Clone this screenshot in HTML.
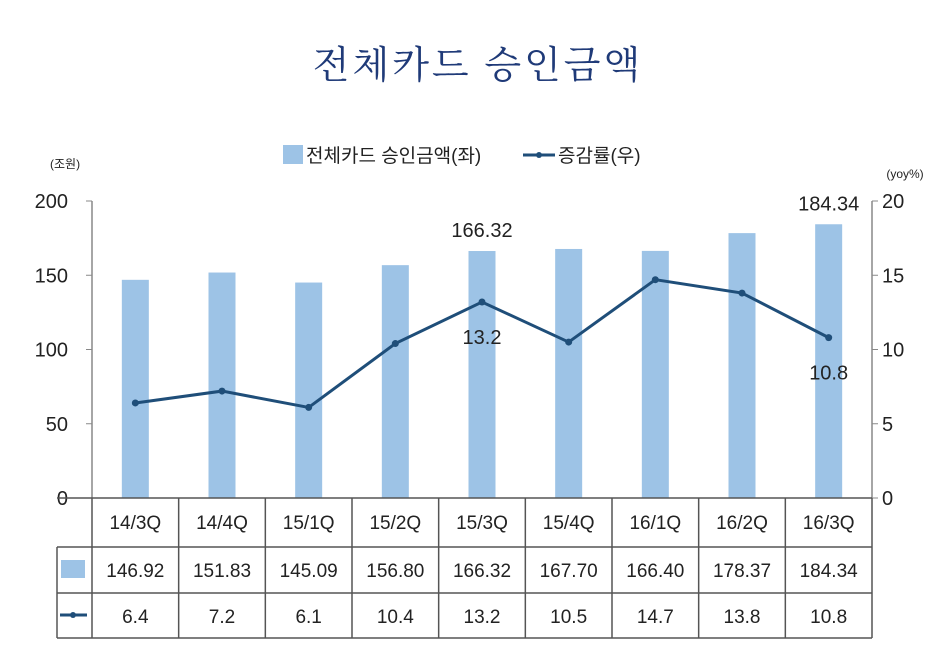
<!DOCTYPE html>
<html><head><meta charset="utf-8">
<style>
body{margin:0;background:#fff;}
svg text{font-family:"Liberation Sans","Noto Sans CJK KR",sans-serif;fill:#222;}
</style></head>
<body>
<svg width="936" height="660" viewBox="0 0 936 660" xmlns="http://www.w3.org/2000/svg">
<text x="478" y="78" text-anchor="middle" font-size="38" style="font-family:'Noto Serif CJK SC','Noto Sans CJK KR',serif;fill:#1f3a78" letter-spacing="3">전체카드 승인금액</text>
<g>
<rect x="283" y="145" width="20" height="19" fill="#9dc3e6"/>
<text x="306" y="162" font-size="19">전체카드 승인금액(좌)</text>
<line x1="523" y1="155" x2="555" y2="155" stroke="#1f4e79" stroke-width="3"/>
<circle cx="539" cy="155" r="3" fill="#1f4e79"/>
<text x="558" y="162" font-size="19">증감률(우)</text>
</g>
<text x="50" y="168" font-size="12" fill="#444">(조원)</text>
<text x="905" y="178" font-size="12" text-anchor="middle">(yoy%)</text>
<g id="plot"></g>
</svg>
<script>
const categories=["14/3Q","14/4Q","15/1Q","15/2Q","15/3Q","15/4Q","16/1Q","16/2Q","16/3Q"];
const amounts=[146.92,151.83,145.09,156.80,166.32,167.70,166.40,178.37,184.34];
const growth=[6.4,7.2,6.1,10.4,13.2,10.5,14.7,13.8,10.8];
const amountLabels=["146.92","151.83","145.09","156.80","166.32","167.70","166.40","178.37","184.34"];
const growthLabels=["6.4","7.2","6.1","10.4","13.2","10.5","14.7","13.8","10.8"];
const leftTicks=[0,50,100,150,200];
const rightTicks=[0,5,10,15,20];
const NS="http://www.w3.org/2000/svg";
const g=document.getElementById('plot');
const X0=92,X1=872,Y0=498,Y1=201;
const colW=(X1-X0)/categories.length;
const xc=i=>X0+colW*(i+0.5);
const yL=v=>Y0-(v/200)*(Y0-Y1);
const yR=v=>Y0-(v/20)*(Y0-Y1);
function mk(tag,attrs,txt){const e=document.createElementNS(NS,tag);for(const k in attrs)e.setAttribute(k,attrs[k]);if(txt!=null)e.textContent=txt;g.appendChild(e);return e;}
// axes
let e=mk('line',{x1:X0,y1:Y1,x2:X0,y2:Y0,stroke:'#888','stroke-width':1.5});


e=mk('line',{x1:X1,y1:Y1,x2:X1,y2:Y0,stroke:'#888','stroke-width':1.5});


leftTicks.forEach(t=>{
 mk('line',{x1:X0-6,y1:yL(t),x2:X0,y2:yL(t),stroke:'#888'});
 e=mk('text',{x:68,y:yL(t)+7,'font-size':20,'text-anchor':'end'},String(t));
 
 
});
rightTicks.forEach(t=>{
 mk('line',{x1:X1,y1:yR(t),x2:X1+6,y2:yR(t),stroke:'#888'});
 e=mk('text',{x:882,y:yR(t)+7,'font-size':20},String(t));
 
 
});
// bars
amounts.forEach((v,i)=>{
 e=mk('rect',{x:xc(i)-13.5,y:yL(v),width:27,height:Y0-yL(v),fill:'#9dc3e6'});
 
 
});
// line
const pts=growth.map((v,i)=>xc(i)+','+yR(v)).join(' ');
e=mk('polyline',{points:pts,fill:'none',stroke:'#1f4e79','stroke-width':3});


growth.forEach((v,i)=>{
 e=mk('circle',{cx:xc(i),cy:yR(v),r:3.5,fill:'#1f4e79'});
 
 
});
// data labels
[[4,'bar'],[8,'bar']].forEach(([i])=>{
 e=mk('text',{x:xc(i),y:yL(amounts[i])-14,'font-size':20,'text-anchor':'middle'},amountLabels[i]);
 
 
});
[4,8].forEach(i=>{
 e=mk('text',{x:xc(i),y:yR(growth[i])+42,'font-size':20,'text-anchor':'middle'},growthLabels[i]);
 
 
});
// table
const R0=498,R1=547,R2=593,R3=638,TL=57;
const ls={stroke:'#555','stroke-width':1.5};
mk('line',Object.assign({x1:X0-35,y1:R0,x2:X1,y2:R0},ls));
mk('line',Object.assign({x1:TL,y1:R1,x2:X1,y2:R1},ls));
mk('line',Object.assign({x1:TL,y1:R2,x2:X1,y2:R2},ls));
mk('line',Object.assign({x1:TL,y1:R3,x2:X1,y2:R3},ls));
mk('line',Object.assign({x1:TL,y1:R1,x2:TL,y2:R3},ls));
for(let i=0;i<=categories.length;i++){
 const x=X0+colW*i;
 mk('line',Object.assign({x1:x,y1:R0,x2:x,y2:R3},ls));
}
categories.forEach((c,i)=>{
 e=mk('text',{x:xc(i),y:R0+31,'font-size':19,'text-anchor':'middle'},c);
 
 
 e=mk('text',{x:xc(i),y:R1+30,'font-size':19,'text-anchor':'middle'},amountLabels[i]);
 
 
 e=mk('text',{x:xc(i),y:R2+30,'font-size':19,'text-anchor':'middle'},growthLabels[i]);
 
 
});
e=mk('rect',{x:61,y:560,width:24,height:18,fill:'#9dc3e6'});


e=mk('line',{x1:60,y1:615,x2:87,y2:615,stroke:'#1f4e79','stroke-width':3});


mk('circle',{cx:73,cy:615,r:3,fill:'#1f4e79'});
</script>
</body></html>
